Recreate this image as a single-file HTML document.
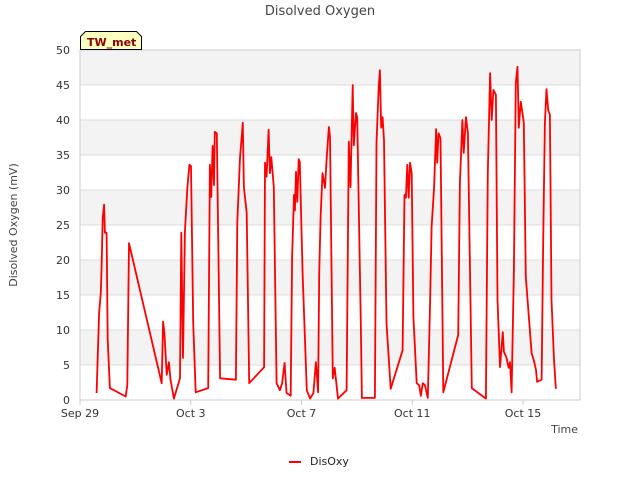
<!DOCTYPE html>
<html><head><meta charset="utf-8">
<style>
body{margin:0;background:#fff;font-family:"DejaVu Sans","Liberation Sans",sans-serif;}
svg text{font-family:"DejaVu Sans","Liberation Sans",sans-serif;}
</style></head>
<body>
<svg id="chart" width="640" height="480" xmlns="http://www.w3.org/2000/svg">
<text x="320" y="15" text-anchor="middle" font-size="13" fill="#444">Disolved Oxygen</text>
<g id="plot"></g>
<text transform="translate(17,225) rotate(-90)" text-anchor="middle" font-size="11" fill="#444">Disolved Oxygen (mV)</text>
<text x="578" y="433" text-anchor="end" font-size="11" fill="#444">Time</text>
<g>
<line x1="289" y1="462" x2="301" y2="462" stroke="#f00" stroke-width="2"/>
<text x="310" y="465" font-size="11" fill="#222">DisOxy</text>
</g>
<g>
<path d="M80.5,36.5 L85.5,31.5 L136.5,31.5 L141.5,36.5 L141.5,49.5 L80.5,49.5 Z" fill="#ffffc0" stroke="#000" stroke-width="1"/>
<text x="87" y="46" font-size="11" font-weight="bold" fill="#8b0000">TW_met</text>
</g>
</svg>
<script>
const yTicks=[0,5,10,15,20,25,30,35,40,45,50];
const xTickDays=[0,4,8,12,16];
const xTickLabels=["Sep 29","Oct 3","Oct 7","Oct 11","Oct 15"];
const days=[0.6,0.69,0.75,0.78,0.82,0.87,0.9,0.96,1.0,1.08,1.65,1.71,1.77,2.95,3.0,3.05,3.13,3.21,3.27,3.39,3.61,3.66,3.72,3.79,3.88,3.95,4.01,4.09,4.18,4.63,4.69,4.74,4.79,4.84,4.87,4.94,5.06,5.63,5.68,5.78,5.88,5.92,6.02,6.11,6.65,6.68,6.74,6.81,6.86,6.91,7.0,7.1,7.22,7.3,7.39,7.46,7.61,7.66,7.73,7.76,7.8,7.85,7.9,7.94,8.04,8.19,8.31,8.43,8.52,8.6,8.64,8.69,8.76,8.85,8.91,8.99,9.03,9.13,9.2,9.32,9.63,9.71,9.77,9.85,9.89,9.97,10.01,10.14,10.18,10.65,10.71,10.79,10.83,10.88,10.93,10.98,11.07,11.22,11.65,11.72,11.77,11.82,11.87,11.92,11.98,12.04,12.16,12.25,12.31,12.38,12.46,12.56,12.64,12.7,12.79,12.86,12.9,12.95,13.02,13.12,13.66,13.72,13.81,13.86,13.94,14.01,14.15,14.66,14.73,14.81,14.87,14.93,15.02,15.08,15.17,15.27,15.31,15.4,15.48,15.53,15.59,15.67,15.74,15.8,15.85,15.92,16.03,16.1,16.22,16.31,16.39,16.47,16.51,16.67,16.73,16.79,16.85,16.91,16.97,17.03,17.12,17.19];
const oxy=[1.0,12.4,15.3,19,26,27.9,23.9,23.9,8.6,1.7,0.5,2.1,22.4,2.4,11.2,9.6,3.6,5.4,2.9,0.2,3.1,23.9,6.0,24.0,30.4,33.6,33.4,11.0,1.1,1.7,33.6,29,36.3,30.7,38.3,38.1,3.1,2.9,25.4,34.6,39.6,30.4,26.7,2.4,4.7,33.9,31.9,38.6,32.4,34.7,30.4,2.4,1.4,2.4,5.3,1.0,0.6,20.4,29.3,27.1,32.6,28.3,34.4,34.0,18.1,1.4,0.2,1.0,5.4,1.1,18.1,26.1,32.4,30.3,34.6,39.0,37.6,3.1,4.6,0.2,1.4,36.9,30.4,45,36.4,41,40.4,11,0.3,0.3,36.7,44.7,47.1,38.9,40.4,37.1,11,1.6,7.1,29.3,28.9,33.6,28.9,33.9,32.4,11.9,2.4,2.1,0.6,2.4,2.1,0.3,13.3,24.7,30.4,38.7,33.9,38.1,37.4,1.1,9.3,31.0,40,35.3,40.4,38.1,1.7,0.2,32.4,46.7,40,44.3,43.6,14.3,4.7,9.7,6.9,6.1,4.6,5.4,1.1,18.6,45.3,47.6,38.9,42.6,39.6,17.6,11.4,6.7,5.7,4.3,2.6,2.9,22.9,39.6,44.4,41.4,40.7,14.3,5.7,1.6];
const X0=80,X1=580,Y0=400,Y1=50,DAY_PX=(523-80)/16;
const xs=d=>X0+d*DAY_PX;
const ys=v=>Y0-(v/50)*(Y0-Y1);
const NS="http://www.w3.org/2000/svg";
const g=document.getElementById('plot');
function mk(t,a){const e=document.createElementNS(NS,t);for(const k in a)e.setAttribute(k,a[k]);g.appendChild(e);return e;}
for(let i=0;i<yTicks.length-1;i++){
  if(i%2===1){const r=mk('rect',{x:X0,y:ys(yTicks[i+1]),width:X1-X0,height:ys(yTicks[i])-ys(yTicks[i+1]),fill:'#f3f3f3'});
  
  }
}
yTicks.forEach(v=>{
  const l=mk('line',{x1:X0,x2:X1,y1:ys(v),y2:ys(v),stroke:'#ddd','stroke-width':1});
  
  
  const t=mk('text',{x:70,y:ys(v)+4,'text-anchor':'end','font-size':11,fill:'#333'});
  
  
  t.textContent=v;
});
const ax=mk('rect',{x:X0,y:Y1,width:X1-X0,height:Y0-Y1,fill:'none',stroke:'#ccc'});


xTickDays.forEach((d,i)=>{
  const tk=mk('line',{x1:xs(d),x2:xs(d),y1:Y0,y2:Y0+5,stroke:'#ccc'});
  
  
  const t=mk('text',{x:xs(d),y:417,'text-anchor':'middle','font-size':11,fill:'#333'});
  
  
  t.textContent=xTickLabels[i];
});
const p=mk('polyline',{points:days.map((d,i)=>xs(d).toFixed(1)+','+ys(oxy[i]).toFixed(1)).join(' '),fill:'none',stroke:'#f00','stroke-width':1.8,'stroke-linejoin':'round'});


</script>
</body></html>
